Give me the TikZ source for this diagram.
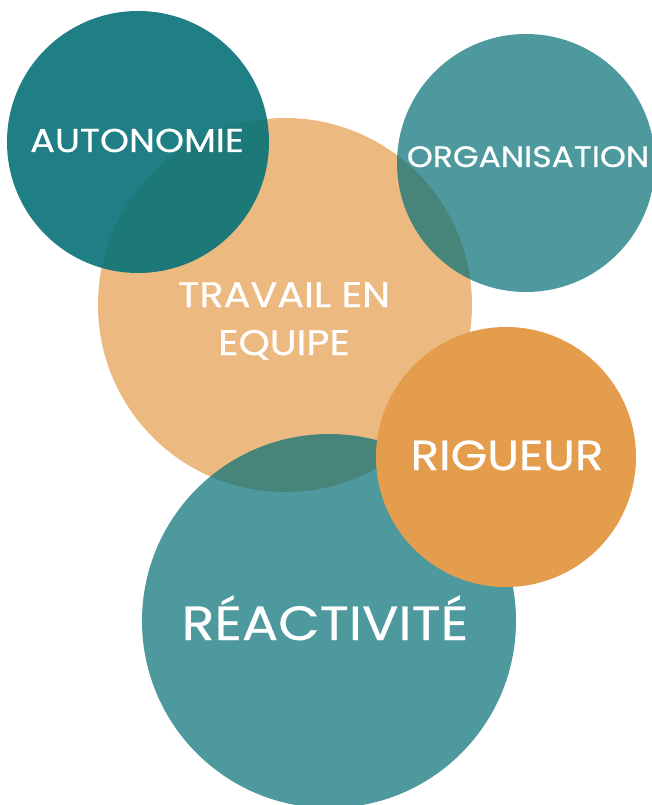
\documentclass[tikz,border=0pt]{standalone}
\usepackage{fontspec}
\setmainfont{Poppins}[FakeStretch=1.12,FakeBold=0.6]
\usetikzlibrary{positioning}
\definecolor{sarcelle}{HTML}{087178}
\definecolor{ocre}{HTML}{E49D4C}

\begin{document}
\begin{tikzpicture}[x=1pt,y=-1pt,
bulle/.style={circle,inner sep=0pt,minimum size=2*#1},
mot/.style={text=white,inner sep=0pt,anchor=base,align=center},
]
\useasboundingbox (0,0) rectangle (651,805);
% les bulles
\node (travail) [bulle=187pt,fill=ocre,fill opacity=.7] at (285,305) {};
\node (autonomie) [bulle=131pt,fill=sarcelle,fill opacity=.9] at (138,142) {};
\node (organisation) [bulle=129pt,fill=sarcelle,fill opacity=.72] at (526,163) {};
\node (reactivite) [bulle=187pt,fill=sarcelle,fill opacity=.72] at (329,621) {};
\node (rigueur) [bulle=130pt,fill=ocre] at (506,457) {};
% les mots
\node (tautonomie) [mot,font=\fontsize{33}{38}\selectfont] at (137,152) {AUTONOMIE};
\node (torganisation) [mot,font=\fontsize{29.5}{37}\selectfont] at (528,167) {ORGANISATION};
\node (ttravail) [mot,font=\fontsize{35.5}{48}\selectfont] at (284,355) {TRAVAIL EN\\EQUIPE};
\node (trigueur) [mot,font=\fontsize{42}{42}\selectfont] at (507,470) {RIGUEUR};
\node (treactivite) [mot,font=\fontsize{48}{54}\selectfont] at (325,640) {RÉACTIVITÉ};
\end{tikzpicture}
\end{document}
